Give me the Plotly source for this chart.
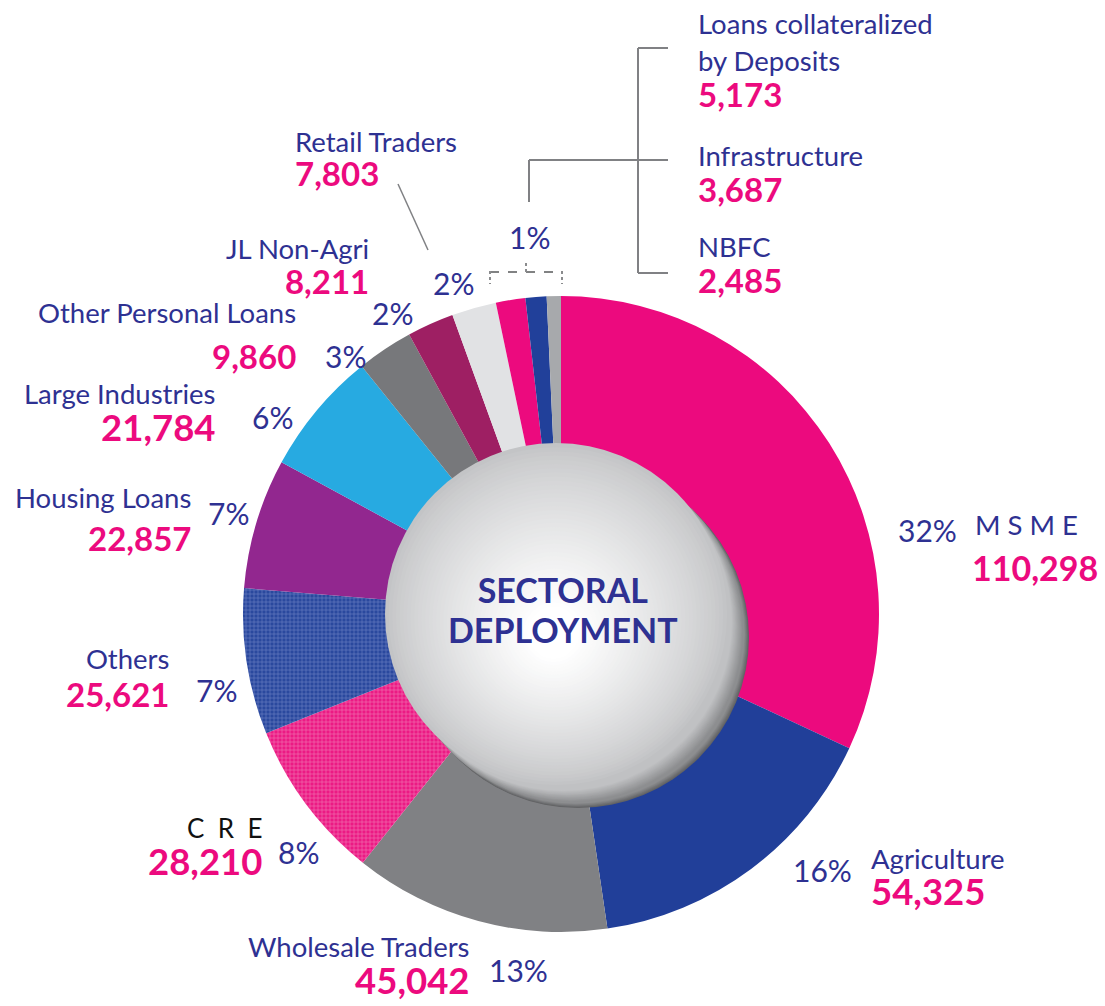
import plotly.graph_objects as go

# Sector-wise advances (Rs. crore)
sectors = ["MSME", "Agriculture", "Wholesale Traders", "CRE", "Others",
           "Housing Loans", "Large Industries", "Other Personal Loans",
           "JL Non-Agri", "Retail Traders", "Loans collateralized by Deposits",
           "Infrastructure", "NBFC"]
amounts = [110298, 54325, 45042, 28210, 25621, 22857, 21784, 9860,
           8211, 7803, 5173, 3687, 2485]
share_labels = ["32%", "16%", "13%", "8%", "7%", "7%", "6%", "3%",
                "2%", "2%", "1%"]

slice_colors = ["#ec0a7e", "#213f99", "#808184", "#ec1a84", "#2a489e",
                "#92278f", "#27aae1", "#77787b", "#9e1f63", "#e1e2e4",
                "#ec0a7e", "#21409a", "#a7a9ac"]
pattern_fg = {"CRE": "#f58fc1", "Others": "#7d92d0"}

W, H = 1105, 1006
NAME_C = "#2e3192"
VAL_C = "#ec0a7e"
FONT = "Lato"


def px(x, y):
    return x / W, 1 - y / H


cx, cy, R = 561, 614, 318

fig = go.Figure()
fig.add_trace(go.Pie(
    labels=sectors,
    values=amounts,
    sort=False,
    direction="clockwise",
    rotation=0,
    hole=0.5,
    textinfo="none",
    hoverinfo="label+value+percent",
    showlegend=False,
    marker=dict(
        colors=slice_colors,
        line=dict(width=0),
        pattern=dict(
            shape=["+" if s in pattern_fg else "" for s in sectors],
            size=4,
            solidity=0.3,
            fillmode="overlay",
            fgcolor=[pattern_fg.get(s, c) for s, c in zip(sectors, slice_colors)],
            fgopacity=0.7,
        ),
    ),
    domain=dict(x=[(cx - R) / W, (cx + R) / W],
                y=[1 - (cy + R) / H, 1 - (cy - R) / H]),
))

shapes = []


def circle(x, y, r, color, opacity=1.0):
    x0, y0 = px(x - r, y + r)
    x1, y1 = px(x + r, y - r)
    shapes.append(dict(type="circle", xref="paper", yref="paper",
                       x0=x0, y0=y0, x1=x1, y1=y1, layer="above",
                       fillcolor=color, opacity=opacity,
                       line=dict(width=0)))


def mix(c1, c2, t):
    a = [int(c1[i:i + 2], 16) for i in (1, 3, 5)]
    b = [int(c2[i:i + 2], 16) for i in (1, 3, 5)]
    return "#" + "".join(f"{round(a[k] + (b[k] - a[k]) * t):02x}" for k in range(3))


# centre disc: dark cast shadow, grey side wall, then a radial-shaded face
sx, sy, sr = 556, 614, 171
n = 8
for i in range(n):
    t = i / (n - 1)
    circle(sx + 22 - 3 * t, sy + 23 - 3 * t, sr - 1.5 * t,
           mix("#626365", "#8d8e90", t))
n = 14
for i in range(n):
    t = i / (n - 1)
    circle(sx + 16 - 9 * t, sy + 17 - 9 * t, sr - 2 * t,
           mix("#8e8f91", "#c0c1c3", t))

steps = 46
for i in range(steps):
    t = i / steps
    r = sr * (1 - t)
    circle(sx - 3 * t, sy + 22 * t, r,
           mix("#c3c4c6", "#ffffff", min(1.0, (t / 0.85) ** 0.8)))

LINE_C = "#808184"


def seg(x0, y0, x1, y1, dash="solid", width=2, color=LINE_C):
    a0, b0 = px(x0, y0)
    a1, b1 = px(x1, y1)
    shapes.append(dict(type="line", xref="paper", yref="paper",
                       x0=a0, y0=b0, x1=a1, y1=b1,
                       line=dict(color=color, width=width, dash=dash)))


# bracket for the three smallest sectors
seg(638, 48, 638, 273)
seg(638, 48, 668, 48)
seg(638, 160, 668, 160)
seg(638, 273, 668, 273)
seg(529, 160, 638, 160)
seg(529, 160, 529, 202)
# dashed brace over the small slices
seg(490, 272, 562, 272, dash="dash", width=1.5, color="#58595b")
seg(490, 271, 490, 284, dash="dot", width=2, color="#8a8b8d")
seg(562, 271, 562, 284, dash="dot", width=2, color="#8a8b8d")
seg(526, 263, 526, 272, dash="dot", width=2, color="#8a8b8d")
# leader for Retail Traders
seg(398, 184, 428, 250, width=1.5)

annotations = []


def txt(x, y, s, size, color, anchor="left", bold=False, family=FONT):
    ax, ay = px(x, y)
    if bold:
        s = f"<b>{s}</b>"
    annotations.append(dict(x=ax, y=ay, xref="paper", yref="paper",
                            text=s, showarrow=False, xanchor=anchor,
                            yanchor="middle", borderpad=0,
                            font=dict(size=size, color=color, family=family)))


def block(x, y1, y2, lines, anchor="left"):
    """Stacked name / value lines in one text block; y1, y2 are the
    centres of the first and last line."""
    gap = (y2 - y1) / (len(lines) - 1)
    parts = []
    for s, size, color, bold in lines:
        s = f"<b>{s}</b>" if bold else s
        parts.append(f"<span style=\"font-size:{size}px;color:{color}\">{s}</span>")
    ax, ay = px(x, (y1 + y2) / 2)
    annotations.append(dict(x=ax, y=ay, xref="paper", yref="paper",
                            text="<br>".join(parts), showarrow=False,
                            xanchor=anchor, yanchor="middle", align=anchor,
                            borderpad=0,
                            font=dict(size=gap / 1.3, color=NAME_C,
                                      family=FONT)))


def fmt(v):
    return f"{v:,}"


NS, VS, VL, PS = 27.5, 33, 36.5, 30
val = dict(zip(sectors, amounts))
sp = "\u00a0"


def nm(s):
    return (s, NS, NAME_C, False)


def vv(key, size=VS):
    return (fmt(val[key]), size, VAL_C, True)


# right-hand block
block(697, 24, 97, [nm("Loans collateralized"), nm("by Deposits"),
                    vv("Loans collateralized by Deposits")])
block(697, 156, 192, [nm("Infrastructure"), vv("Infrastructure")])
block(697, 247, 283, [nm("NBFC"), vv("NBFC")])
txt(529, 237, share_labels[10], PS, NAME_C, anchor="center")

block(294, 142, 176, [nm("Retail Traders"), vv("Retail Traders")])
txt(453, 283, share_labels[9], PS, NAME_C, anchor="center")

block(370, 249, 284, [nm("JL Non-Agri"), vv("JL Non-Agri")], anchor="right")
txt(392, 313, share_labels[8], PS, NAME_C, anchor="center")

txt(297, 313, "Other Personal Loans", NS, NAME_C, anchor="right")
txt(297, 356, fmt(val["Other Personal Loans"]), VS, VAL_C, anchor="right", bold=True)
txt(345, 356, share_labels[7], PS, NAME_C, anchor="center")

block(217, 395, 432, [nm("Large Industries"), vv("Large Industries", VL)],
      anchor="right")
txt(272, 417, share_labels[6], PS, NAME_C, anchor="center")

txt(192, 497, "Housing Loans", NS, NAME_C, anchor="right")
txt(192, 538, fmt(val["Housing Loans"]), VS, VAL_C, anchor="right", bold=True)
txt(228, 513, share_labels[5], PS, NAME_C, anchor="center")

block(170, 659, 697, [nm("Others"), vv("Others")], anchor="right")
txt(216, 690, share_labels[4], PS, NAME_C, anchor="center")

block(263, 829, 866, [(f"C{sp}{sp}R{sp}{sp}E", 26, "#111111", False),
                      vv("CRE", VL)], anchor="right")
txt(298, 852, share_labels[3], PS, NAME_C, anchor="center")

block(471, 947, 984, [nm("Wholesale Traders"), vv("Wholesale Traders", VL)],
      anchor="right")
txt(518, 970, share_labels[2], PS, NAME_C, anchor="center")

txt(822, 870, share_labels[1], PS, NAME_C, anchor="center")
block(870, 859, 895, [nm("Agriculture"), vv("Agriculture", VL)])

txt(927, 530, share_labels[0], PS, NAME_C, anchor="center")
txt(974, 524, "M S M E", NS, NAME_C)
txt(1099, 567, fmt(val["MSME"]), 34, VAL_C, anchor="right", bold=True)

block(563, 589, 629, [("SECTORAL", 34, NAME_C, True),
                      ("DEPLOYMENT", 34, NAME_C, True)], anchor="center")

fig.update_layout(
    width=W, height=H,
    margin=dict(l=0, r=0, t=0, b=0),
    paper_bgcolor="white",
    plot_bgcolor="white",
    shapes=shapes,
    annotations=annotations,
    showlegend=False,
)

fig.write_html("out.html")
